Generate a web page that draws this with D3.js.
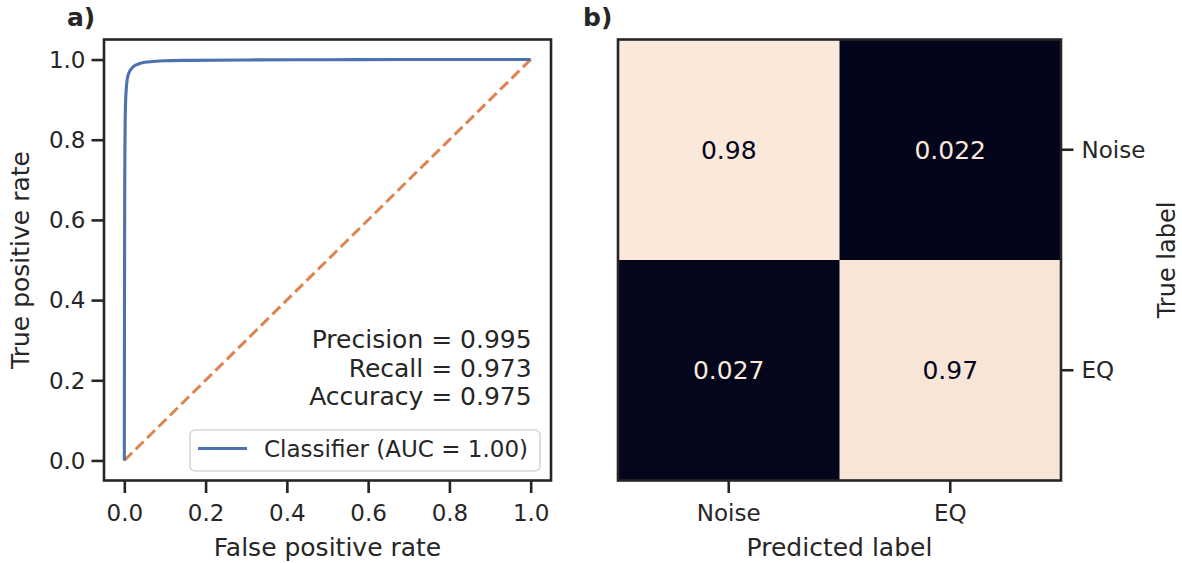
<!DOCTYPE html>
<html>
<head>
<meta charset="utf-8">
<script src="https://cdn.jsdelivr.net/npm/d3@7"></script>
<style>
  html, body { margin: 0; padding: 0; background: #fff; }
  svg { display: block; font-family: "DejaVu Sans", sans-serif; }
</style>
</head>
<body>
<svg id="chart" width="1182" height="563"></svg>
<script>
// ---------- data ----------
const fpr = [0, 0.0003, 0.0006, 0.001, 0.0015, 0.002, 0.003, 0.004, 0.005, 0.007, 0.010, 0.014, 0.020, 0.026, 0.035, 0.050, 0.070, 0.100, 0.160, 0.300, 0.500, 0.700, 1.0];
const tpr = [0, 0.25, 0.50, 0.68, 0.78, 0.84, 0.89, 0.915, 0.93, 0.95, 0.963, 0.972, 0.980, 0.985, 0.989, 0.993, 0.995, 0.997, 0.998, 0.999, 0.9995, 1.0, 1.0];
const chanceX = [0, 1];
const chanceY = [0, 1];
const xTicks = [0.0, 0.2, 0.4, 0.6, 0.8, 1.0];
const yTicks = [0.0, 0.2, 0.4, 0.6, 0.8, 1.0];
const legendLabel = "Classifier (AUC = 1.00)";
const metricLines = ["Precision = 0.995", "Recall = 0.973", "Accuracy = 0.975"];

const classLabels = ["Noise", "EQ"];
const confusion = [
  [0.98, 0.022],
  [0.027, 0.97]
];
const confusionText = [
  ["0.98", "0.022"],
  ["0.027", "0.97"]
];

// ---------- setup ----------
const svg = d3.select("#chart");
const ink = "#262626";
const blue = "#4c72b0";
const orange = "#dd8452";

// ---------- panel a: ROC ----------
const A = { left: 104, right: 551, top: 39.5, bottom: 480.5 };
const x = d3.scaleLinear().domain([-0.05, 1.05]).range([A.left, A.right]);
const y = d3.scaleLinear().domain([-0.05, 1.05]).range([A.bottom, A.top]);

const gA = svg.append("g");

// chance line
gA.append("path")
  .datum(chanceX.map((v, i) => [v, chanceY[i]]))
  .attr("d", d3.line().x(d => x(d[0])).y(d => y(d[1])))
  .attr("fill", "none")
  .attr("stroke", orange)
  .attr("stroke-width", 3)
  .attr("stroke-dasharray", "11,5");

// ROC curve
gA.append("path")
  .datum(fpr.map((v, i) => [v, tpr[i]]))
  .attr("d", d3.line().x(d => x(d[0])).y(d => y(d[1])).curve(d3.curveMonotoneX))
  .attr("fill", "none")
  .attr("stroke", blue)
  .attr("stroke-width", 3.1)
  .attr("stroke-linejoin", "round");

// frame
gA.append("rect")
  .attr("x", A.left).attr("y", A.top)
  .attr("width", A.right - A.left).attr("height", A.bottom - A.top)
  .attr("fill", "none").attr("stroke", ink).attr("stroke-width", 2.6);

// axes
const xAxis = d3.axisBottom(x).tickValues(xTicks).tickFormat(d3.format(".1f")).tickSize(12.5).tickPadding(6);
const yAxis = d3.axisLeft(y).tickValues(yTicks).tickFormat(d3.format(".1f")).tickSize(12.5).tickPadding(6);
const gx = gA.append("g").attr("transform", `translate(0,${A.bottom})`).call(xAxis);
const gy = gA.append("g").attr("transform", `translate(${A.left},0)`).call(yAxis);
[gx, gy].forEach(g => {
  g.select(".domain").remove();
  g.selectAll(".tick line").attr("stroke", ink).attr("stroke-width", 2.6);
  g.selectAll(".tick text").attr("fill", ink).style("font-size", "23px").style("font-family", "DejaVu Sans");
});
gx.selectAll(".tick text").attr("dy", "0.95em");
gy.selectAll(".tick text").attr("dy", "0.34em");

gA.append("text")
  .attr("x", (A.left + A.right) / 2).attr("y", 556)
  .attr("text-anchor", "middle").attr("fill", ink)
  .style("font-size", "25px").text("False positive rate");
gA.append("text")
  .attr("transform", `translate(29,${(A.top + A.bottom) / 2}) rotate(-90)`)
  .attr("text-anchor", "middle").attr("fill", ink)
  .style("font-size", "25px").text("True positive rate");

// metrics text
const metricY = [0.28, 0.209, 0.138];
metricLines.forEach((t, i) => {
  gA.append("text")
    .attr("x", x(1.0) + 1).attr("y", y(metricY[i]))
    .attr("text-anchor", "end").attr("fill", ink)
    .style("font-size", "25px").text(t);
});

// legend
const lg = gA.append("g");
lg.append("rect")
  .attr("x", 190).attr("y", 430).attr("width", 350).attr("height", 41)
  .attr("rx", 5).attr("ry", 5)
  .attr("fill", "white").attr("fill-opacity", 0.8)
  .attr("stroke", "#d6d6d6").attr("stroke-width", 1.6);
lg.append("line")
  .attr("x1", 198).attr("x2", 247).attr("y1", 448.5).attr("y2", 448.5)
  .attr("stroke", blue).attr("stroke-width", 3.1);
lg.append("text")
  .attr("x", 264).attr("y", 457)
  .attr("fill", ink).style("font-size", "23px").text(legendLabel);

// panel label
svg.append("text").attr("x", 67).attr("y", 26)
  .attr("fill", ink).style("font-size", "25px").style("font-weight", "bold").text("a)");

// ---------- panel b: confusion matrix ----------
const B = { left: 618, right: 1061, top: 39.5, bottom: 480.5 };
const bx = d3.scaleBand().domain(classLabels).range([B.left, B.right]);
const by = d3.scaleBand().domain(classLabels).range([B.top, B.bottom]);
const flat = [];
confusion.forEach((row, i) => row.forEach((v, j) => flat.push({ i, j, v, t: confusionText[i][j] })));
const vmin = d3.min(flat, d => d.v), vmax = d3.max(flat, d => d.v);
const color = d3.scaleLinear().domain([vmin, vmax]).range(["#03051a", "#fae8da"]).interpolate(d3.interpolateRgb);

const gB = svg.append("g");
gB.selectAll("rect.cell").data(flat).join("rect")
  .attr("class", "cell")
  .attr("x", d => bx(classLabels[d.j]))
  .attr("y", d => by(classLabels[d.i]))
  .attr("width", bx.bandwidth() + 0.5)
  .attr("height", by.bandwidth() + 0.5)
  .attr("fill", d => color(d.v));
gB.selectAll("text.val").data(flat).join("text")
  .attr("class", "val")
  .attr("x", d => bx(classLabels[d.j]) + bx.bandwidth() / 2)
  .attr("y", d => by(classLabels[d.i]) + by.bandwidth() / 2)
  .attr("dy", "0.36em")
  .attr("text-anchor", "middle")
  .attr("fill", d => d.v > (vmin + vmax) / 2 ? "#03051a" : "#fae8da")
  .style("font-size", "25px")
  .text(d => d.t);

gB.append("rect")
  .attr("x", B.left).attr("y", B.top)
  .attr("width", B.right - B.left).attr("height", B.bottom - B.top)
  .attr("fill", "none").attr("stroke", ink).attr("stroke-width", 2.6);

const bxAxis = d3.axisBottom(bx).tickSize(12.5).tickPadding(6);
const byAxis = d3.axisRight(by).tickSize(12.5).tickPadding(8);
const gbx = gB.append("g").attr("transform", `translate(0,${B.bottom})`).call(bxAxis);
const gby = gB.append("g").attr("transform", `translate(${B.right},0)`).call(byAxis);
[gbx, gby].forEach(g => {
  g.select(".domain").remove();
  g.selectAll(".tick line").attr("stroke", ink).attr("stroke-width", 2.6);
  g.selectAll(".tick text").attr("fill", ink).style("font-size", "23px").style("font-family", "DejaVu Sans");
});
gbx.selectAll(".tick text").attr("dy", "0.95em");
gby.selectAll(".tick text").attr("dy", "0.34em");

gB.append("text")
  .attr("x", (B.left + B.right) / 2).attr("y", 556)
  .attr("text-anchor", "middle").attr("fill", ink)
  .style("font-size", "25px").text("Predicted label");
gB.append("text")
  .attr("transform", `translate(1175,${(B.top + B.bottom) / 2}) rotate(-90)`)
  .attr("text-anchor", "middle").attr("fill", ink)
  .style("font-size", "24px").text("True label");

svg.append("text").attr("x", 583).attr("y", 26)
  .attr("fill", ink).style("font-size", "25px").style("font-weight", "bold").text("b)");
</script>
</body>
</html>
